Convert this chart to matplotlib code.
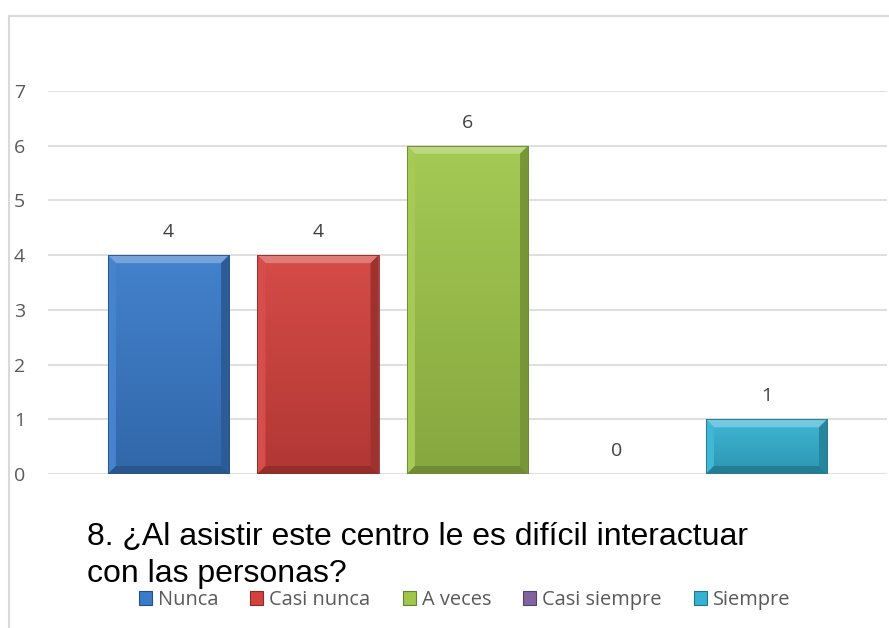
import numpy as np
import matplotlib
matplotlib.use("Agg")
import matplotlib.pyplot as plt
from matplotlib.patches import Polygon, Rectangle
from matplotlib.lines import Line2D
from matplotlib.colors import to_rgb

# data
categories = ["Nunca", "Casi nunca", "A veces", "Casi siempre", "Siempre"]
values = [4, 4, 6, 0, 1]
colors = ["#3A7BCA", "#D3423E", "#A0C74B", "#8064A2", "#35B2D3"]
yticks = [0, 1, 2, 3, 4, 5, 6, 7]
title = "8. ¿Al asistir este centro le es difícil interactuar\ncon las personas?"


def blend(c, other, t):
    c = np.array(to_rgb(c))
    return tuple(c * (1 - t) + np.array(other) * t)


W, H = 889, 628
fig = plt.figure(figsize=(W / 100, H / 100), dpi=100)
ax = fig.add_axes([48 / W, (H - 474) / H, (887 - 48) / W, (474 - 91) / H])

x = np.arange(len(categories))
bar_w = 0.81
ax.set_xlim(-0.806, len(categories) - 1 + 0.806)
ax.set_ylim(0, 7)

# bars with a gradient fill and bevelled edges
px_x = ax.get_position().width * W / (ax.get_xlim()[1] - ax.get_xlim()[0])
px_y = ax.get_position().height * H / (ax.get_ylim()[1] - ax.get_ylim()[0])
bev = 8
bx, by = bev / px_x, bev / px_y

bars = ax.bar(x, values, width=bar_w, color=colors, zorder=2, linewidth=0)
for bar, c in zip(bars, colors):
    h = bar.get_height()
    if h <= 0:
        continue
    x0, x1 = bar.get_x(), bar.get_x() + bar.get_width()
    grad = np.linspace(0, 1, 64)[:, None]
    top_c = np.array(blend(c, (1, 1, 1), 0.05))
    bot_c = np.array(blend(c, (0, 0, 0), 0.16))
    img = top_c[None, None, :] * (1 - grad[..., None]) + bot_c[None, None, :] * grad[..., None]
    im = ax.imshow(img, extent=(x0, x1, 0, h), aspect="auto", zorder=2.1,
                   interpolation="bilinear")
    im.set_clip_path(bar)
    bb = min(by, h / 3)
    # top bevel
    ax.add_patch(Polygon([(x0, h), (x1, h), (x1 - bx, h - bb), (x0 + bx, h - bb)],
                         closed=True, color=blend(c, (1, 1, 1), 0.3), lw=0, zorder=3))
    # left bevel
    ax.add_patch(Polygon([(x0, h), (x0 + bx, h - bb), (x0 + bx, bb), (x0, 0)],
                         closed=True, color=blend(c, (1, 1, 1), 0.06), lw=0, zorder=3))
    # right bevel
    ax.add_patch(Polygon([(x1, h), (x1 - bx, h - bb), (x1 - bx, bb), (x1, 0)],
                         closed=True, color=blend(c, (0, 0, 0), 0.25), lw=0, zorder=3))
    # bottom bevel
    ax.add_patch(Polygon([(x0, 0), (x1, 0), (x1 - bx, bb), (x0 + bx, bb)],
                         closed=True, color=blend(c, (0, 0, 0), 0.3), lw=0, zorder=3))
    ax.add_patch(Rectangle((x0, 0), x1 - x0, h, fill=False,
                           ec=blend(c, (0, 0, 0), 0.35), lw=0.6, zorder=3.5))

for xi, v in zip(x, values):
    ax.annotate(str(v), (xi, v), xytext=(0, 13), textcoords="offset points",
                ha="center", va="baseline", fontsize=14, color="#404040",
                family="Open Sans")

ax.set_yticks(yticks)
ax.set_yticklabels([str(t) for t in yticks], fontsize=14, color="#595959",
                   family="Open Sans")
ax.tick_params(axis="y", length=0, pad=16.5)
ax.set_xticks([])
ax.grid(axis="y", color="#D9D9D9", linewidth=1.2, zorder=0)
ax.set_axisbelow(True)
for s in ax.spines.values():
    s.set_visible(False)

# title
fig.text(87 / W, 1 - 522 / H, title, ha="left", va="top", fontsize=23,
         family="Liberation Sans", color="black", linespacing=1.3)

# legend
handles = [Rectangle((0, 0), 1, 1, fc=c, ec=blend(c, (0, 0, 0), 0.35), lw=0.8)
           for c in colors]
fig.legend(handles, categories, loc="center", bbox_to_anchor=(464.5 / W, 1 - 600 / H),
           ncol=5, frameon=False, handlelength=0.65, handleheight=0.65,
           handletextpad=0.3, columnspacing=1.6, borderpad=0, borderaxespad=0,
           prop={"family": "Open Sans", "size": 14.4}, labelcolor="#595959")

# chart border
fig.add_artist(Line2D([9 / W, 9 / W], [0, 1 - 16 / H], color="#D9D9D9", lw=1.5))
fig.add_artist(Line2D([9 / W, 1], [1 - 16 / H, 1 - 16 / H], color="#D9D9D9", lw=1.5))

fig.savefig("out.png", dpi=100)
